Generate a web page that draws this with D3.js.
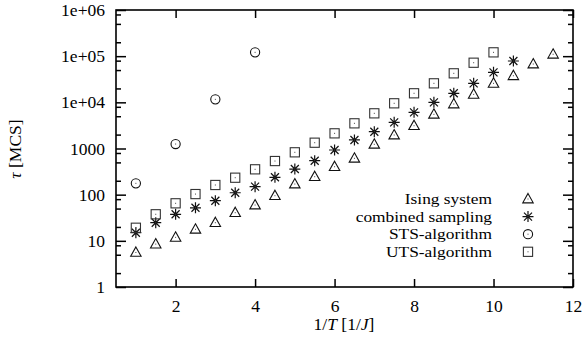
<!DOCTYPE html>
<html lang="en">
<head>
<meta charset="UTF-8">
<title>tau vs 1/T</title>
<style>
  html, body { margin: 0; padding: 0; background: #fff; overflow: hidden; }
  text { font-family: "Liberation Serif", serif; font-size: 17.5px; fill: #000; }
  .legend text { font-size: 15.5px; }
</style>
<script src="https://cdn.jsdelivr.net/npm/d3@7"></script>
</head>
<body>
<svg id="chart" width="584" height="342"></svg>
<script>
// data
const isingX = [1, 1.5, 2, 2.5, 3, 3.5, 4, 4.5, 5, 5.5, 6, 6.5, 7, 7.5, 8, 8.5, 9, 9.5, 10, 10.5, 11, 11.5]
const isingY = [5.6, 8.5, 11.9, 17.8, 24.7, 40.7, 59.7, 95, 170, 245, 403, 613, 1232, 1960, 3117, 5500, 9200, 14900, 25800, 37700, 67600, 110000]

const combX = [1, 1.5, 2, 2.5, 3, 3.5, 4, 4.5, 5, 5.5, 6, 6.5, 7, 7.5, 8, 8.5, 9, 9.5, 10, 10.5]
const combY = [15, 24.7, 37.6, 52, 74, 110, 149, 238, 359, 544, 927, 1530, 2310, 3690, 6080, 10000, 15700, 25800, 44600, 78500]

const stsX = [1, 2, 3, 4]
const stsY = [176, 1250, 11600, 121000]

const utsX = [1, 1.5, 2, 2.5, 3, 3.5, 4, 4.5, 5, 5.5, 6, 6.5, 7, 7.5, 8, 8.5, 9, 9.5, 10]
const utsY = [19.2, 37.6, 65, 103, 162, 233, 354, 535, 827, 1335, 2130, 3510, 5780, 9530, 15700, 25800, 42500, 72100, 121000]

const seriesNames = ['Ising system', 'combined sampling', 'STS-algorithm', 'UTS-algorithm']
const seriesShapes = ['triangle', 'star', 'circle', 'square']

const xTicks = [2, 4, 6, 8, 10, 12]
const yTicks = [1, 10, 100, 1000, 1e4, 1e5, 1e6]
const yTickLabels = ['1', '10', '100', '1000', '1e+04', '1e+05', '1e+06']
const yMinor = [2, 5, 8]

const svg = d3.select('#chart')
const margin = { top: 10, right: 11, bottom: 55, left: 116 }
const W = 584 - margin.left - margin.right
const H = 342 - margin.top - margin.bottom

const chart = svg.append('g')
  .attr('transform', `translate(${margin.left},${margin.top})`)

const x = d3.scaleLinear().domain([0.5, 12]).range([0, W])
const y = d3.scaleLog().domain([1, 1e6]).range([H, 0])

// minor y ticks
const minorVals = []
for (let d = 1; d < 1e6; d *= 10) yMinor.forEach(m => minorVals.push(d * m))

function styleAxis(g) {
  g.select('.domain').remove()
  g.selectAll('.tick line').attr('stroke', '#000').attr('stroke-width', 1.5)
}

chart.append('g').call(d3.axisLeft(y).tickValues(minorVals).tickSize(-5).tickFormat(''))
  .call(styleAxis)
chart.append('g').attr('transform', `translate(${W},0)`)
  .call(d3.axisRight(y).tickValues(minorVals).tickSize(-5).tickFormat(''))
  .call(styleAxis)

chart.append('g')
  .call(d3.axisLeft(y).tickValues(yTicks).tickSize(-10).tickPadding(11)
    .tickFormat((d, i) => yTickLabels[i]))
  .call(styleAxis)
chart.append('g').attr('transform', `translate(${W},0)`)
  .call(d3.axisRight(y).tickValues(yTicks).tickSize(-10).tickFormat(''))
  .call(styleAxis)

chart.append('g').attr('transform', `translate(0,${H})`)
  .call(d3.axisBottom(x).tickValues(xTicks).tickSize(-8).tickPadding(13).tickFormat(d3.format('d')))
  .call(styleAxis)
chart.append('g')
  .call(d3.axisTop(x).tickValues(xTicks).tickSize(-8).tickFormat(''))
  .call(styleAxis)

chart.selectAll('.tick text').attr('fill', '#000')
  .style('font-family', '"Liberation Serif", serif').style('font-size', '17.5px')

// frame
chart.append('rect')
  .attr('width', W).attr('height', H)
  .attr('fill', 'none').attr('stroke', '#000').attr('stroke-width', 1.6)

// markers
function drawMarker(g, shape, cx, cy) {
  const col = '#111'
  if (shape === 'triangle') {
    const r = 5.5
    g.append('path')
      .attr('d', `M${cx},${cy - r} L${cx + r * 0.95},${cy + r * 0.7} L${cx - r * 0.95},${cy + r * 0.7} Z`)
      .attr('fill', 'none').attr('stroke', col).attr('stroke-width', 1.1)
  } else if (shape === 'star') {
    const r = 5.5, s = 4
    g.append('path')
      .attr('d', `M${cx - r},${cy} L${cx + r},${cy} M${cx},${cy - r} L${cx},${cy + r}` +
        `M${cx - s},${cy - s} L${cx + s},${cy + s} M${cx - s},${cy + s} L${cx + s},${cy - s}`)
      .attr('stroke', col).attr('stroke-width', 1.2)
  } else if (shape === 'circle') {
    g.append('circle').attr('cx', cx).attr('cy', cy).attr('r', 4.6)
      .attr('fill', 'none').attr('stroke', col).attr('stroke-width', 1.1)
  } else {
    g.append('rect').attr('x', cx - 4.6).attr('y', cy - 4.6).attr('width', 9.2).attr('height', 9.2)
      .attr('fill', 'none').attr('stroke', '#333').attr('stroke-width', 1.1)
  }
  g.append('rect').attr('x', cx - 0.5).attr('y', cy - 0.5).attr('width', 1).attr('height', 1)
    .attr('fill', '#444')
}

const allSeries = [[isingX, isingY], [combX, combY], [stsX, stsY], [utsX, utsY]]
allSeries.forEach(([xs, ys], k) => {
  const g = chart.append('g').attr('class', 'series-' + k)
  xs.forEach((xv, i) => drawMarker(g, seriesShapes[k], x(xv), y(ys[i])))
})

// legend (text stretched sideways a little for the wider TeX look)
const legend = chart.append('g').attr('class', 'legend')
  .attr('transform', `translate(${492 - margin.left},${199 - margin.top})`)
seriesNames.forEach((name, i) => {
  legend.append('g')
    .attr('transform', `translate(0,${i * 17.6}) scale(1.12,1)`)
    .append('text')
    .attr('dy', '0.33em')
    .attr('text-anchor', 'end')
    .text(name)
  drawMarker(legend, seriesShapes[i], 36, i * 17.6)
})

// axis labels
svg.append('text')
  .attr('transform', 'translate(21,149) rotate(-90)')
  .attr('text-anchor', 'middle')
  .html('<tspan font-style="italic">τ</tspan> [MCS]')

svg.append('text')
  .attr('x', 344).attr('y', 330)
  .attr('text-anchor', 'middle')
  .html('1/<tspan font-style="italic">T</tspan> [1/<tspan font-style="italic">J</tspan>]')
</script>
</body>
</html>
